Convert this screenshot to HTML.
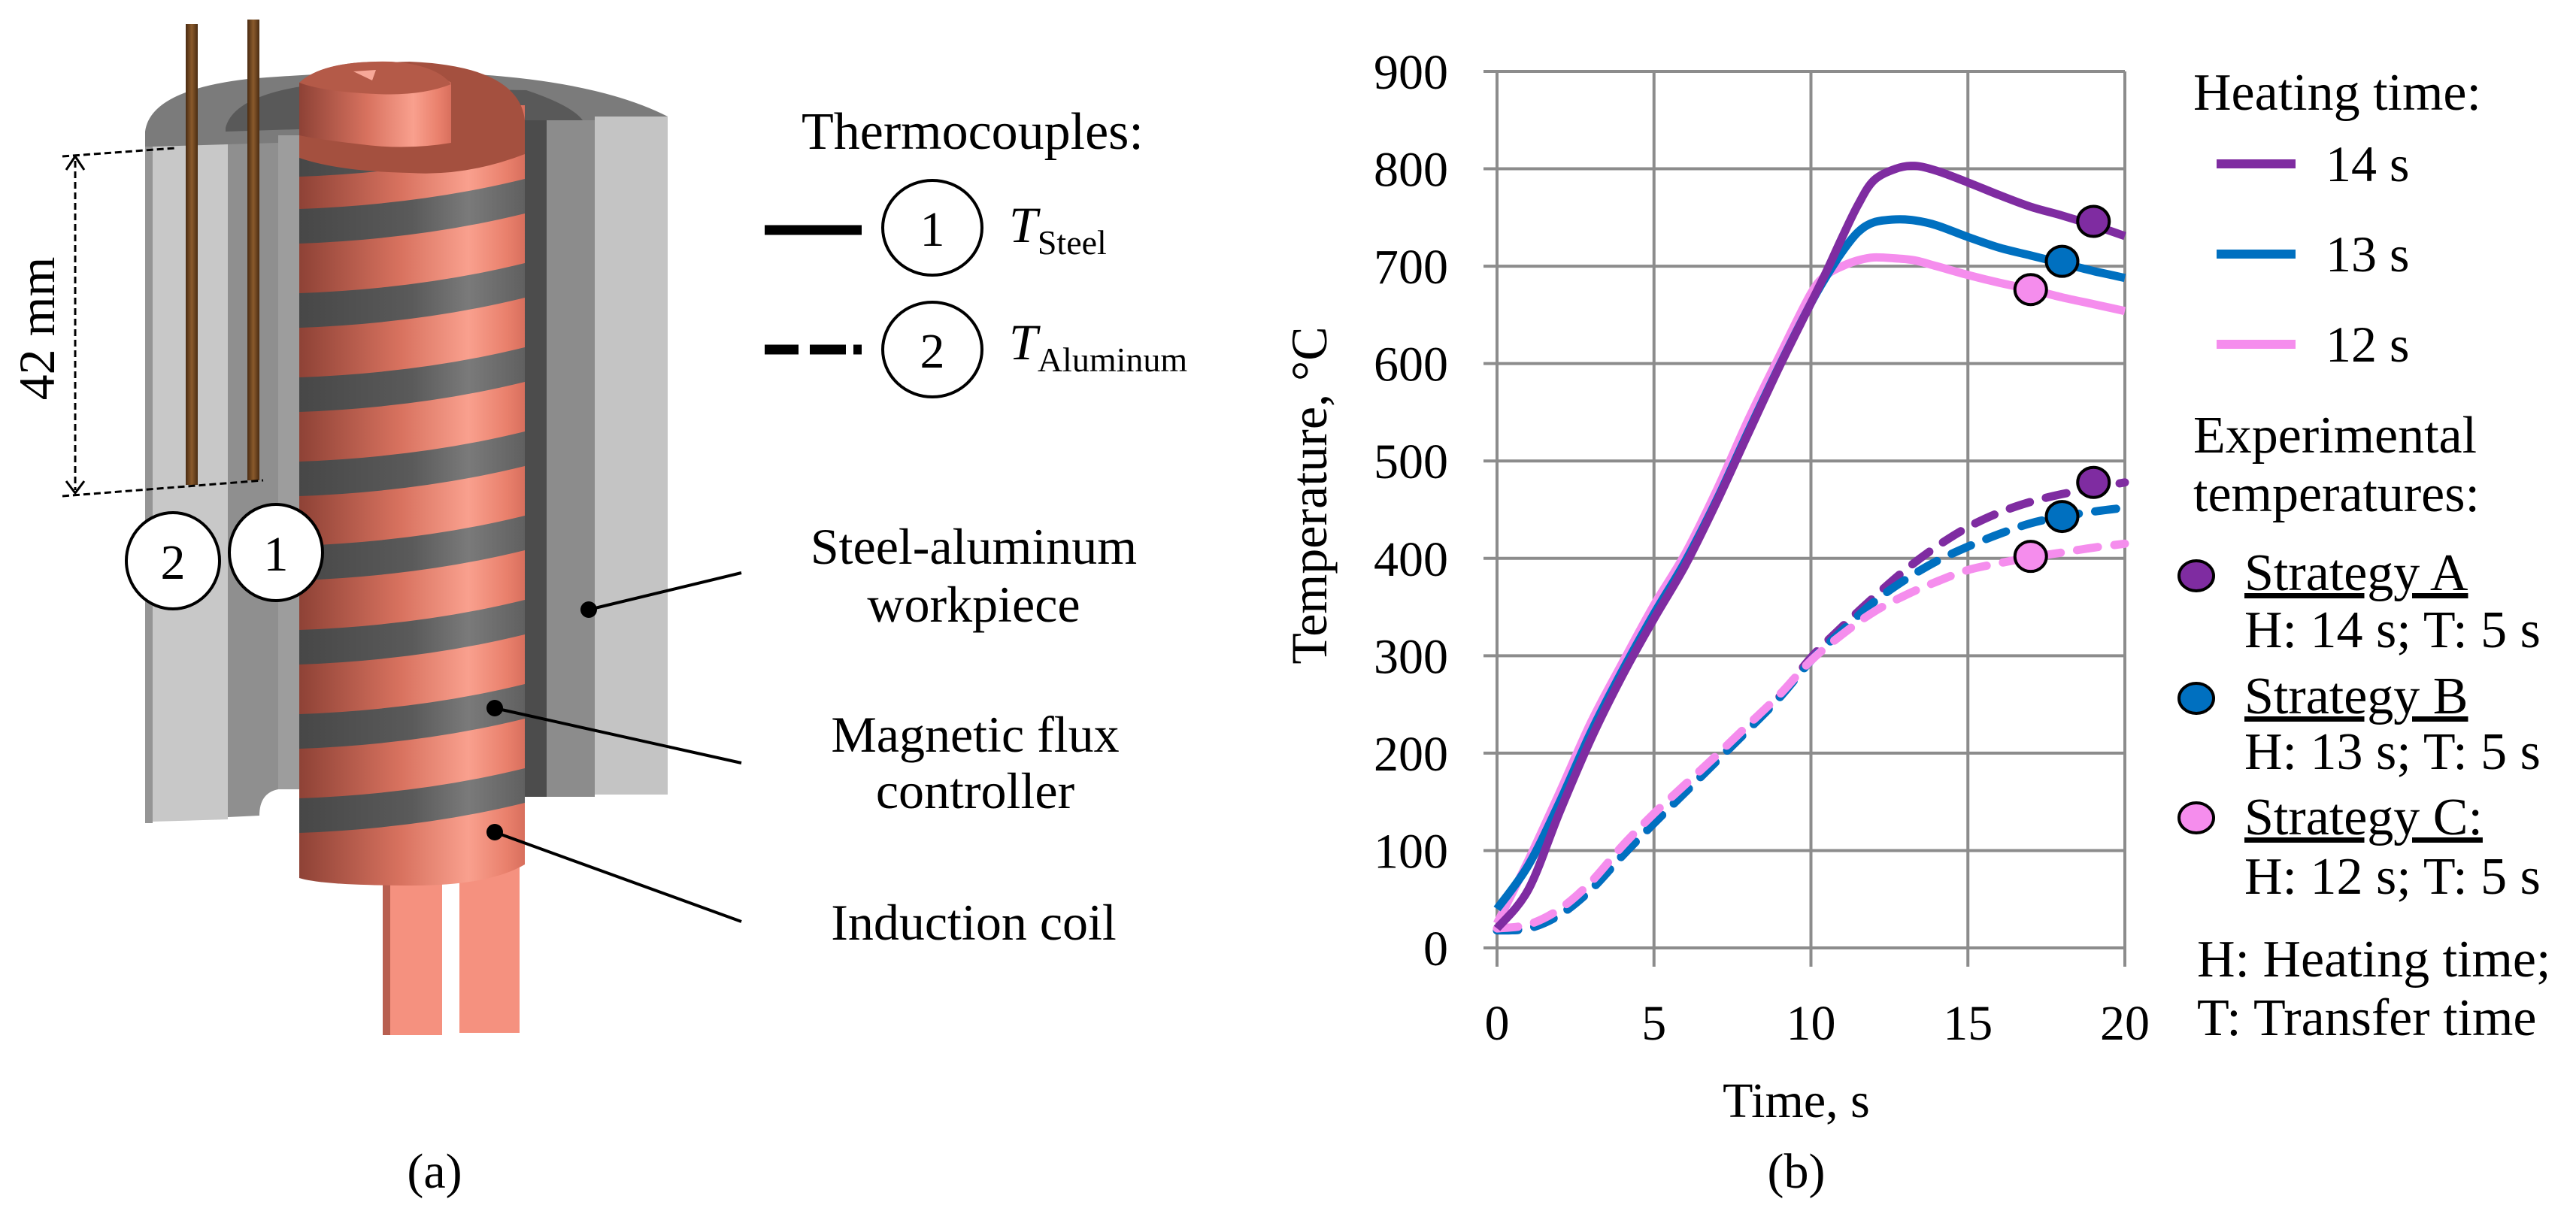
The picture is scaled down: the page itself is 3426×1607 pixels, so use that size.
<!DOCTYPE html>
<html><head><meta charset="utf-8">
<style>
html,body{margin:0;padding:0;background:#fff;}
svg{display:block;}
text{font-family:"Liberation Serif",serif;fill:#000;}
</style></head>
<body>
<svg id="fig" width="3426" height="1607" viewBox="0 0 3426 1607" xmlns="http://www.w3.org/2000/svg">
<defs>
<linearGradient id="coilG" x1="0" x2="1" y1="0" y2="0">
<stop offset="0" stop-color="#8e4236"/><stop offset="0.45" stop-color="#d8725f"/><stop offset="0.75" stop-color="#f9a08e"/><stop offset="0.92" stop-color="#e9806c"/><stop offset="1" stop-color="#d86f5d"/>
</linearGradient>
<linearGradient id="stripeG" x1="0" x2="1" y1="0" y2="0">
<stop offset="0" stop-color="#474747"/><stop offset="0.5" stop-color="#5a5a5a"/><stop offset="0.75" stop-color="#7a7a7a"/><stop offset="1" stop-color="#606060"/>
</linearGradient>
<linearGradient id="rodG" x1="0" x2="1" y1="0" y2="0">
<stop offset="0" stop-color="#4a2c12"/><stop offset="0.5" stop-color="#8a5a2c"/><stop offset="1" stop-color="#4a2c12"/>
</linearGradient>
</defs>

<!-- ===== Panel (a) ===== -->
<g>
  <path d="M193,200 L193,175 Q200,120 330,105 Q450,95 560,96 Q780,100 888,155 L888,175 L193,200 Z" fill="#7b7b7b"/>
  <path d="M300,170 Q310,130 400,115 L700,120 Q760,140 775,160 L300,175 Z" fill="#595959"/>
  <rect x="193" y="195" width="10" height="900" fill="#959595"/>
  <path d="M203,195 L303,192 L303,1090 L203,1093 Z" fill="#c8c8c8"/>
  <path d="M303,192 L370,190 L370,1050 Q345,1055 345,1085 L303,1087 Z" fill="#8f8f8f"/>
  <rect x="370" y="180" width="30" height="870" fill="#9d9d9d"/>
  <rect x="697" y="160" width="32" height="900" fill="#4c4c4c"/>
  <rect x="727" y="160" width="64" height="900" fill="#8c8c8c"/>
  <rect x="791" y="155" width="97" height="902" fill="#c4c4c4"/>
</g>
<g>
  <rect x="509" y="1150" width="79" height="227" fill="#f5917f"/>
  <rect x="509" y="1150" width="10" height="227" fill="#b85f50"/>
  <rect x="611" y="1130" width="80" height="244" fill="#f5917f"/>
  <path d="M398,140 L698,140 L698,1150 Q650,1178 550,1178 Q430,1178 398,1168 Z" fill="url(#coilG)"/>
</g>
<g id="stripes"></g>
<g>
  <path d="M398,140 Q400,85 545,82 Q690,88 698,160 L698,205 Q620,235 545,230 Q450,228 398,210 Z" fill="#a4503f"/>
  <path d="M398,110 Q430,80 520,82 Q560,84 600,110 L600,190 Q540,200 480,192 Q420,185 398,180 Z" fill="url(#coilG)"/>
  <path d="M398,110 Q430,80 520,82 Q580,86 600,112 Q560,128 500,125 Q430,122 398,110 Z" fill="#b45a48"/>
  <path d="M470,95 L500,93 L495,107 Z" fill="#f7a898"/>
</g>
<g>
  <rect x="247" y="32" width="16" height="613" fill="url(#rodG)"/>
  <rect x="329" y="26" width="16" height="613" fill="url(#rodG)"/>
</g>
<g stroke="#000" stroke-width="3" stroke-dasharray="9 5" fill="none">
  <line x1="83" y1="208" x2="233" y2="197"/>
  <line x1="83" y1="660" x2="350" y2="639"/>
  <line x1="100" y1="214" x2="100" y2="652"/>
</g>
<path d="M88,226 L100,208 L112,226 M88,640 L100,656 L112,640" stroke="#000" stroke-width="3" fill="none"/>
<text x="0" y="0" font-size="68" text-anchor="middle" transform="translate(72,437) rotate(-90)">42 mm</text>
<g>
  <ellipse cx="230" cy="746" rx="62" ry="64" fill="#fff" stroke="#000" stroke-width="4"/>
  <text x="230" y="770" font-size="66" text-anchor="middle">2</text>
</g>
<g>
  <ellipse cx="367" cy="735" rx="62" ry="64" fill="#fff" stroke="#000" stroke-width="4"/>
  <text x="367" y="759" font-size="66" text-anchor="middle">1</text>
</g>

<text x="1066" y="198" font-size="70">Thermocouples:</text>
<line x1="1017" y1="306" x2="1146" y2="306" stroke="#000" stroke-width="13"/>
<ellipse cx="1240" cy="303" rx="66" ry="63" fill="#fff" stroke="#000" stroke-width="4"/>
<text x="1240" y="327" font-size="66" text-anchor="middle">1</text>
<text x="1342" y="322" font-size="68"><tspan font-style="italic">T</tspan><tspan font-size="46" dy="16">Steel</tspan></text>
<g stroke="#000" stroke-width="13">
  <line x1="1017" y1="465" x2="1062" y2="465"/><line x1="1077" y1="465" x2="1125" y2="465"/><line x1="1135" y1="465" x2="1146" y2="465"/>
</g>
<ellipse cx="1240" cy="465" rx="66" ry="63" fill="#fff" stroke="#000" stroke-width="4"/>
<text x="1240" y="489" font-size="66" text-anchor="middle">2</text>
<text x="1342" y="478" font-size="68"><tspan font-style="italic">T</tspan><tspan font-size="46" dy="16">Aluminum</tspan></text>

<text x="1295" y="750" font-size="68" text-anchor="middle">Steel-aluminum</text>
<text x="1295" y="827" font-size="68" text-anchor="middle">workpiece</text>
<text x="1297" y="1000" font-size="68" text-anchor="middle">Magnetic flux</text>
<text x="1297" y="1075" font-size="68" text-anchor="middle">controller</text>
<text x="1295" y="1250" font-size="68" text-anchor="middle">Induction coil</text>
<g stroke="#000" stroke-width="4">
  <line x1="783" y1="811" x2="986" y2="762"/>
  <line x1="658" y1="942" x2="986" y2="1015"/>
  <line x1="658" y1="1107" x2="986" y2="1226"/>
</g>
<circle cx="783" cy="811" r="11"/><circle cx="658" cy="942" r="11"/><circle cx="658" cy="1107" r="11"/>
<text x="578" y="1580" font-size="66" text-anchor="middle">(a)</text>

<!-- ===== Panel (b) chart ===== -->
<g id="chart"></g>
</svg>

<script>
// ---- chart data ----
const xTicks = [0, 5, 10, 15, 20];
const yTicks = [0, 100, 200, 300, 400, 500, 600, 700, 800, 900];
const seriesNames = ['14 s', '13 s', '12 s'];
const seriesColors = ['#7f2ca1', '#0070c0', '#f58ded'];
const steelT = [0, 1, 2, 3, 4, 5, 6, 7, 8, 9, 10, 10.5, 11, 11.5, 12, 12.7, 13.3, 14, 15, 16, 17, 18, 19, 20];
const steel14 = [20, 60, 140, 215, 280, 338, 393, 458, 528, 597, 662, 695, 730, 763, 788, 800, 803, 798, 786, 773, 761, 752, 742, 731];
const steel13 = [40, 85, 150, 222, 285, 343, 397, 460, 530, 598, 662, 690, 715, 735, 745, 748, 747, 742, 730, 719, 711, 703, 695, 688];
const steel12 = [25, 90, 160, 232, 293, 352, 405, 470, 542, 608, 672, 691, 700, 706, 709, 708, 706, 700, 691, 683, 676, 668, 661, 654];
const alT = [0, 1, 2, 3, 4, 5, 6, 7, 8, 9, 10, 11, 12, 13, 14, 15, 16, 17, 18, 19, 20];
const al14 = [18, 20, 34, 60, 95, 128, 160, 192, 224, 258, 298, 330, 360, 388, 412, 432, 447, 458, 466, 472, 478];
const al13 = [18, 20, 34, 60, 95, 128, 160, 192, 224, 257, 295, 326, 355, 378, 397, 412, 425, 436, 443, 448, 452];
const al12 = [20, 24, 40, 68, 105, 138, 168, 198, 229, 260, 295, 322, 345, 362, 376, 388, 395, 401, 406, 411, 415];
const expTime = [19, 18, 17];
const expSteel = [746, 705, 676];
const expAl = [478, 443, 402];
const strategyNames = ['Strategy A', 'Strategy B', 'Strategy C:'];
const strategyDetails = ['H: 14 s; T: 5 s', 'H: 13 s; T: 5 s', 'H: 12 s; T: 5 s'];

const NS = 'http://www.w3.org/2000/svg';
const X0 = 1991, X1 = 2826, Y0 = 1261, Y1 = 95;
const sx = t => X0 + (t - 0) / 20 * (X1 - X0);
const sy = v => Y0 - v / 900 * (Y0 - Y1);
const chart = document.getElementById('chart');
function mk(tag, attrs, parent) {
  const e = document.createElementNS(NS, tag);
  for (const k in attrs) e.setAttribute(k, attrs[k]);
  (parent || chart).appendChild(e);
  return e;
}
function smoothPath(ts, vs) {
  const p = ts.map((t, i) => [sx(t), sy(vs[i])]);
  let d = 'M' + p[0][0] + ',' + p[0][1];
  for (let i = 0; i < p.length - 1; i++) {
    const a = p[i - 1] || p[i], b = p[i], c = p[i + 1], e = p[i + 2] || c;
    const c1 = [b[0] + (c[0] - a[0]) / 6, b[1] + (c[1] - a[1]) / 6];
    const c2 = [c[0] - (e[0] - b[0]) / 6, c[1] - (e[1] - b[1]) / 6];
    d += ' C' + c1[0] + ',' + c1[1] + ' ' + c2[0] + ',' + c2[1] + ' ' + c[0] + ',' + c[1];
  }
  return d;
}

// gridlines + tick labels
yTicks.forEach(v => {
  const l = mk('line', {x1: X0 - 18, x2: X1, y1: sy(v), y2: sy(v), stroke: '#8c8c8c', 'stroke-width': 4});
  
  
  const t = mk('text', {x: 1926, y: sy(v) + 23, 'font-size': 66, 'text-anchor': 'end'});
  t.textContent = v;
  
  
});
xTicks.forEach(v => {
  const l = mk('line', {x1: sx(v), x2: sx(v), y1: Y1, y2: Y0 + 25, stroke: '#8c8c8c', 'stroke-width': 4});
  
  
  const t = mk('text', {x: sx(v), y: 1383, 'font-size': 66, 'text-anchor': 'middle'});
  t.textContent = v;
  
  
});

// series
const steelSeries = [steel14, steel13, steel12];
const alSeries = [al14, al13, al12];
[0, 1, 2].forEach(i => {
  const p = mk('path', {d: smoothPath(alT, alSeries[i]), fill: 'none', stroke: seriesColors[i], 'stroke-width': 11, 'stroke-dasharray': '28 22', 'stroke-linecap': 'round'});
  
  
});
[2, 1, 0].forEach(i => {
  const p = mk('path', {d: smoothPath(steelT, steelSeries[i]), fill: 'none', stroke: seriesColors[i], 'stroke-width': 11, 'stroke-linejoin': 'round'});
  
  
});
// experimental points
expTime.forEach((t, i) => {
  const a = mk('ellipse', {cx: sx(t), cy: sy(expSteel[i]), rx: 21, ry: 20, fill: seriesColors[i], stroke: '#000', 'stroke-width': 4});
  
  
  const b = mk('ellipse', {cx: sx(t), cy: sy(expAl[i]), rx: 21, ry: 20, fill: seriesColors[i], stroke: '#000', 'stroke-width': 4});
  
  
});

// axis titles
const yt = mk('text', {x: 0, y: 0, 'font-size': 68, 'text-anchor': 'middle', transform: 'translate(1764,659) rotate(-90)'});
yt.textContent = 'Temperature, °C';


const xt = mk('text', {x: 2389, y: 1486, 'font-size': 66, 'text-anchor': 'middle'});
xt.textContent = 'Time, s';


const pb = mk('text', {x: 2389, y: 1580, 'font-size': 66, 'text-anchor': 'middle'});
pb.textContent = '(b)';



// legend
const lt = mk('text', {x: 2917, y: 146, 'font-size': 70});
lt.textContent = 'Heating time:';


const legY = [218, 338, 458];
seriesNames.forEach((n, i) => {
  const l = mk('line', {x1: 2948, x2: 3053, y1: legY[i], y2: legY[i], stroke: seriesColors[i], 'stroke-width': 12});
  
  
  const t = mk('text', {x: 3093, y: legY[i] + 23, 'font-size': 68});
  t.textContent = n;
  
  
});
const e1 = mk('text', {x: 2917, y: 602, 'font-size': 70});
e1.textContent = 'Experimental';


const e2 = mk('text', {x: 2917, y: 680, 'font-size': 70});
e2.textContent = 'temperatures:';


const stY = [766, 929, 1088];
const stBase = [785, 949, 1110];
const detBase = [861, 1023, 1189];
strategyNames.forEach((n, i) => {
  const m = mk('ellipse', {cx: 2921, cy: stY[i], rx: 23, ry: 20, fill: seriesColors[i], stroke: '#000', 'stroke-width': 4});
  
  
  const t = mk('text', {x: 2985, y: stBase[i], 'font-size': 70, 'text-decoration': 'underline'});
  t.textContent = n;
  
  
  const d = mk('text', {x: 2985, y: detBase[i], 'font-size': 70});
  d.textContent = strategyDetails[i];
  
  
});
const n1 = mk('text', {x: 2922, y: 1299, 'font-size': 70});
n1.textContent = 'H: Heating time;';


const n2 = mk('text', {x: 2922, y: 1377, 'font-size': 70});
n2.textContent = 'T: Transfer time';



// coil stripes (drawing)
const stripes = document.getElementById('stripes');
[205, 278, 390, 502, 614, 726, 838, 950, 1062].forEach((y, i) => {
  const h = i === 0 ? 30 : 46;
  const p = document.createElementNS(NS, 'path');
  p.setAttribute('d', 'M398,' + y + ' Q560,' + (y - 6) + ' 698,' + (y - 40) + ' L698,' + (y - 40 + h) + ' Q560,' + (y - 6 + h) + ' 398,' + (y + h) + ' Z');
  p.setAttribute('fill', 'url(#stripeG)');
  
  
  stripes.appendChild(p);
});
</script>
</body></html>
